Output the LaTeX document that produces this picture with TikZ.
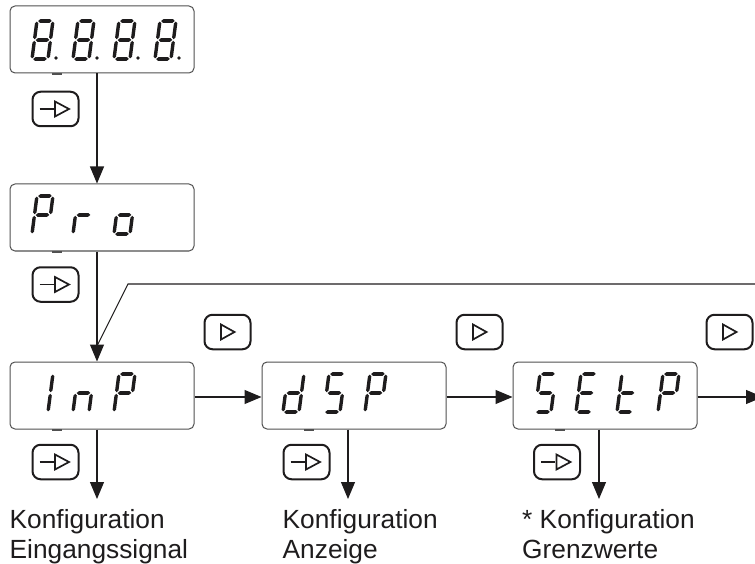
\documentclass[tikz,border=0pt]{standalone}
\usepackage{fontspec}
\setmainfont{Liberation Sans}
\usetikzlibrary{arrows.meta}
\definecolor{ink}{RGB}{30,28,29}
\definecolor{edge}{RGB}{80,80,80}
\tikzset{
  x=1pt,y=-1pt,
  lcd/.style={draw=edge,line width=1pt,rounded corners=5pt,minimum width=184pt,minimum height=67pt,inner sep=0pt},
  key/.style={draw=ink,line width=2pt,rounded corners=8pt,minimum width=46pt,minimum height=34.5pt,inner sep=0pt},
  flow/.style={draw=ink,line width=1.1pt,-{Triangle[length=17pt,width=14pt]}},
  plain/.style={draw=ink,line width=1.1pt},
  sym/.style={draw=ink,line width=1.7pt,line join=miter},
  lab/.style={font=\fontsize{26.3}{30}\selectfont,align=left,anchor=north west,inner sep=0pt,text=ink},
}
\newcommand{\HS}[1]{\fill[ink] (2.2,#1) -- (4.2,#1-1.8) -- (13.8,#1-1.8) -- (15.8,#1) -- (13.8,#1+1.8) -- (4.2,#1+1.8) -- cycle;}
\newcommand{\VS}[3]{\fill[ink] (#1,#2) -- (#1+1.7,#2+1.8) -- (#1+1.7,#3-1.8) -- (#1,#3) -- (#1-1.7,#3-1.8) -- (#1-1.7,#2+1.8) -- cycle;}
\newcommand{\segA}{\HS{-38}}
\newcommand{\segB}{\VS{17}{-37.4}{-19.8}}
\newcommand{\segC}{\VS{17}{-18.2}{-0.6}}
\newcommand{\segD}{\HS{0}}
\newcommand{\segE}{\VS{1}{-18.2}{-0.6}}
\newcommand{\segF}{\VS{1}{-37.4}{-19.8}}
\newcommand{\segG}{\HS{-19}}
% #1 x, #2 baseline y, #3 segments
\newcommand{\digit}[3]{\begin{scope}[shift={(#1,#2)},xslant=0.13]
  \foreach \s in {#3}{\csname seg\s\endcsname}
\end{scope}}
\newcommand{\dpoint}[2]{\fill[ink] (#1,#2) circle (1.9pt);}
\newcommand{\arrowkey}[3]{\node[key] (#1) at (#2,#3) {};
  \draw[sym] (#2-16,#3) -- (#2-2,#3);
  \draw[sym] (#2-0.5,#3-7.5) -- (#2-0.5,#3+7.5) -- (#2+13.5,#3) -- cycle;}
\newcommand{\playkey}[3]{\node[key] (#1) at (#2,#3) {};
  \draw[sym] (#2-6.5,#3-7.5) -- (#2-6.5,#3+7.5) -- (#2+7,#3) -- cycle;}
\newcommand{\tick}[1]{\fill[edge] ([xshift=-50pt,yshift=-1.4pt]#1.south) rectangle ([xshift=-40pt,yshift=0.6pt]#1.south);}
\begin{document}
\begin{tikzpicture}
\useasboundingbox (0,0) rectangle (755,564);
\clip (0,0) rectangle (755,564);
\node[lcd] (disp) at (102,39.5) {};
\node[lcd] (pro) at (102,217.5) {};
\node[lcd] (inp) at (102,395.5) {};
\node[lcd] (dsp) at (354,395.5) {};
\node[lcd] (setp) at (605,395.5) {};
\foreach \n in {disp,pro,inp,dsp,setp}{\tick{\n}}
% 8.8.8.8.
\foreach \c in {31,72,113,154}{
  \digit{\c}{59}{A,B,C,D,E,F,G}
  \dpoint{\c+25}{58}
}
% Pro
\digit{31}{234}{A,B,E,F,G}
\digit{72}{234}{E,G}
\digit{113}{234}{C,D,E,G}
% InP
\digit{31}{412}{B,C}
\digit{72}{412}{C,E,G}
\digit{113}{412}{A,B,E,F,G}
% dSP
\digit{282}{412}{B,C,D,E,G}
\digit{323}{412}{A,C,D,F,G}
\digit{364}{412}{A,B,E,F,G}
% SEtP
\digit{534}{412}{A,C,D,F,G}
\digit{575}{412}{A,D,E,F,G}
\digit{616}{412}{D,E,F,G}
\digit{657}{412}{A,B,E,F,G}
% keys
\arrowkey{k1}{55.5}{109}
\arrowkey{k2}{55.5}{284.5}
\arrowkey{k3}{55.5}{462}
\arrowkey{k4}{306.5}{462}
\arrowkey{k5}{557}{462}
\playkey{p1}{227.5}{332}
\playkey{p2}{479.5}{332}
\playkey{p3}{729.5}{332}
% free ends
\coordinate (ret0) at (755,284);
\coordinate (ret1) at (128,284);
\coordinate (ret2) at (97,346);
\coordinate (out) at (763,397);
\coordinate (d1) at (97,499);
\coordinate (d2) at (348,499);
\coordinate (d3) at (599,499);
% connectors
\draw[flow] ([xshift=-5pt]disp.south) -- ([xshift=-5pt]pro.north);
\draw[flow] ([xshift=-5pt]pro.south) -- ([xshift=-5pt]inp.north);
\draw[plain] (ret0) -- (ret1) -- (ret2);
\draw[flow] ([yshift=-1.5pt]inp.east) -- ([yshift=-1.5pt]dsp.west);
\draw[flow] ([yshift=-1.5pt]dsp.east) -- ([yshift=-1.5pt]setp.west);
\draw[flow] ([yshift=-1.5pt]setp.east) -- (out);
\draw[flow] ([xshift=-5pt]inp.south) -- (d1);
\draw[flow] ([xshift=-6pt]dsp.south) -- (d2);
\draw[flow] ([xshift=-6pt]setp.south) -- (d3);
% labels
\node[lab] (t1) at (9.5,509.5) {Konfiguration\\Eingangssignal};
\node[lab] (t2) at (282.5,509.5) {Konfiguration\\Anzeige};
\node[lab] (t3) at (522,509.5) {* Konfiguration\\Grenzwerte};
\end{tikzpicture}
\end{document}
